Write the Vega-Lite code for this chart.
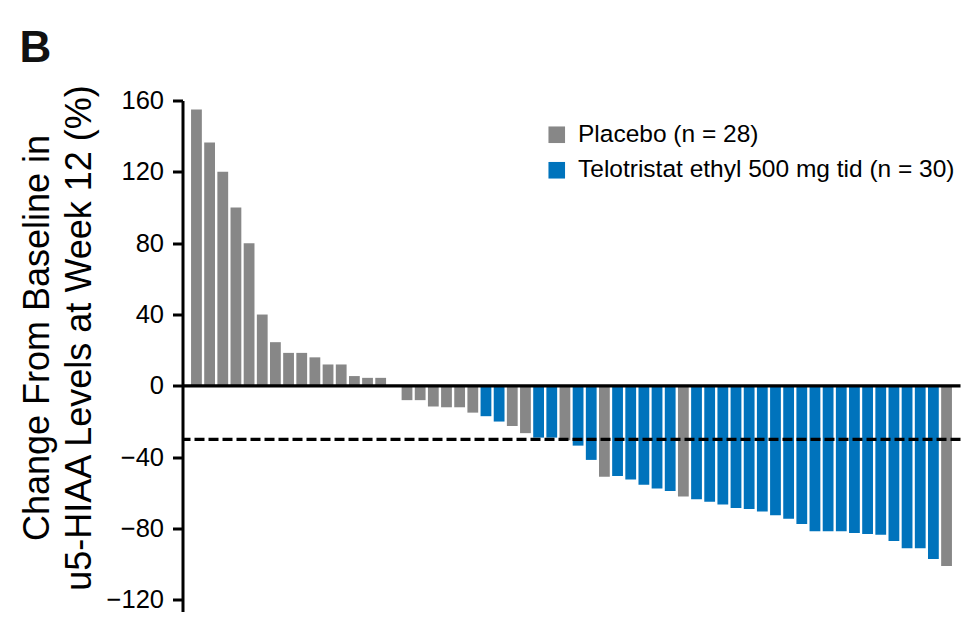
{
  "$schema": "https://vega.github.io/schema/vega-lite/v6.json",
  "width": 778,
  "height": 511,
  "autosize": "none",
  "padding": {"left": 182.5, "top": 100.5, "right": 6.5, "bottom": 19.5},
  "background": "white",
  "config": {"view": {"stroke": null}, "font": "Liberation Sans"},
  "title": {"text": "B", "anchor": "start", "frame": "group", "fontSize": 44, "fontWeight": "bold", "font": "Liberation Sans", "color": "#111111", "dx": -163, "dy": 58, "offset": 36, "baseline": "alphabetic"},
  "data": {"values": [
    {"i": 1, "g": "Placebo (n = 28)", "v": 155},
    {"i": 2, "g": "Placebo (n = 28)", "v": 136.5},
    {"i": 3, "g": "Placebo (n = 28)", "v": 120},
    {"i": 4, "g": "Placebo (n = 28)", "v": 100},
    {"i": 5, "g": "Placebo (n = 28)", "v": 80},
    {"i": 6, "g": "Placebo (n = 28)", "v": 40},
    {"i": 7, "g": "Placebo (n = 28)", "v": 24.5},
    {"i": 8, "g": "Placebo (n = 28)", "v": 18.5},
    {"i": 9, "g": "Placebo (n = 28)", "v": 18.5},
    {"i": 10, "g": "Placebo (n = 28)", "v": 16},
    {"i": 11, "g": "Placebo (n = 28)", "v": 12},
    {"i": 12, "g": "Placebo (n = 28)", "v": 12},
    {"i": 13, "g": "Placebo (n = 28)", "v": 5.5},
    {"i": 14, "g": "Placebo (n = 28)", "v": 4.5},
    {"i": 15, "g": "Placebo (n = 28)", "v": 4.5},
    {"i": 16, "g": "Placebo (n = 28)", "v": 0},
    {"i": 17, "g": "Placebo (n = 28)", "v": -8},
    {"i": 18, "g": "Placebo (n = 28)", "v": -8},
    {"i": 19, "g": "Placebo (n = 28)", "v": -11.5},
    {"i": 20, "g": "Placebo (n = 28)", "v": -12},
    {"i": 21, "g": "Placebo (n = 28)", "v": -12},
    {"i": 22, "g": "Placebo (n = 28)", "v": -15},
    {"i": 23, "g": "Telotristat ethyl 500 mg tid (n = 30)", "v": -17},
    {"i": 24, "g": "Telotristat ethyl 500 mg tid (n = 30)", "v": -20},
    {"i": 25, "g": "Placebo (n = 28)", "v": -22.5},
    {"i": 26, "g": "Placebo (n = 28)", "v": -26.5},
    {"i": 27, "g": "Telotristat ethyl 500 mg tid (n = 30)", "v": -29},
    {"i": 28, "g": "Telotristat ethyl 500 mg tid (n = 30)", "v": -29},
    {"i": 29, "g": "Placebo (n = 28)", "v": -30.5},
    {"i": 30, "g": "Telotristat ethyl 500 mg tid (n = 30)", "v": -33.5},
    {"i": 31, "g": "Telotristat ethyl 500 mg tid (n = 30)", "v": -41.5},
    {"i": 32, "g": "Placebo (n = 28)", "v": -51},
    {"i": 33, "g": "Telotristat ethyl 500 mg tid (n = 30)", "v": -50.5},
    {"i": 34, "g": "Telotristat ethyl 500 mg tid (n = 30)", "v": -52.5},
    {"i": 35, "g": "Telotristat ethyl 500 mg tid (n = 30)", "v": -55.5},
    {"i": 36, "g": "Telotristat ethyl 500 mg tid (n = 30)", "v": -57.5},
    {"i": 37, "g": "Telotristat ethyl 500 mg tid (n = 30)", "v": -59},
    {"i": 38, "g": "Placebo (n = 28)", "v": -62},
    {"i": 39, "g": "Telotristat ethyl 500 mg tid (n = 30)", "v": -63.5},
    {"i": 40, "g": "Telotristat ethyl 500 mg tid (n = 30)", "v": -65},
    {"i": 41, "g": "Telotristat ethyl 500 mg tid (n = 30)", "v": -66.5},
    {"i": 42, "g": "Telotristat ethyl 500 mg tid (n = 30)", "v": -68.5},
    {"i": 43, "g": "Telotristat ethyl 500 mg tid (n = 30)", "v": -69},
    {"i": 44, "g": "Telotristat ethyl 500 mg tid (n = 30)", "v": -70.5},
    {"i": 45, "g": "Telotristat ethyl 500 mg tid (n = 30)", "v": -72.5},
    {"i": 46, "g": "Telotristat ethyl 500 mg tid (n = 30)", "v": -74.5},
    {"i": 47, "g": "Telotristat ethyl 500 mg tid (n = 30)", "v": -77.5},
    {"i": 48, "g": "Telotristat ethyl 500 mg tid (n = 30)", "v": -81.5},
    {"i": 49, "g": "Telotristat ethyl 500 mg tid (n = 30)", "v": -81.5},
    {"i": 50, "g": "Telotristat ethyl 500 mg tid (n = 30)", "v": -81.5},
    {"i": 51, "g": "Telotristat ethyl 500 mg tid (n = 30)", "v": -82.5},
    {"i": 52, "g": "Telotristat ethyl 500 mg tid (n = 30)", "v": -83},
    {"i": 53, "g": "Telotristat ethyl 500 mg tid (n = 30)", "v": -83.5},
    {"i": 54, "g": "Telotristat ethyl 500 mg tid (n = 30)", "v": -87},
    {"i": 55, "g": "Telotristat ethyl 500 mg tid (n = 30)", "v": -91},
    {"i": 56, "g": "Telotristat ethyl 500 mg tid (n = 30)", "v": -91},
    {"i": 57, "g": "Telotristat ethyl 500 mg tid (n = 30)", "v": -97},
    {"i": 58, "g": "Placebo (n = 28)", "v": -101}
  ]},
  "layer": [
    {
      "mark": {"type": "bar"},
      "encoding": {
        "x": {"field": "i", "type": "ordinal", "axis": null, "scale": {"paddingInner": 0.18, "paddingOuter": 0.65}},
        "y": {
          "field": "v", "type": "quantitative",
          "scale": {"domain": [-126.5, 160], "nice": false, "zero": false},
          "axis": {
            "values": [-120, -80, -40, 0, 40, 80, 120, 160],
            "title": ["Change From Baseline in", "u5-HIAA Levels at Week 12 (%)"],
            "grid": false,
            "domainColor": "black", "domainWidth": 3,
            "tickColor": "black", "tickWidth": 3, "tickSize": 10,
            "labelFontSize": 25.5, "labelColor": "black", "labelPadding": 9, "labelFont": "Liberation Sans",
            "titleFontSize": 36, "titleFontWeight": "normal", "titleColor": "black", "titleFont": "Liberation Sans",
            "titleX": -145, "titleY": 237, "titleBaseline": "middle", "titleLineHeight": 42, "titleAngle": -90
          }
        },
        "color": {
          "field": "g", "type": "nominal",
          "scale": {"domain": ["Placebo (n = 28)", "Telotristat ethyl 500 mg tid (n = 30)"], "range": ["#878787", "#0073BC"]},
          "legend": {"orient": "none", "legendX": 362, "legendY": 22, "title": null, "symbolType": "square", "symbolSize": 275, "symbolStrokeWidth": 0, "symbolOpacity": 1, "labelFontSize": 24.5, "labelColor": "black", "labelOffset": 9, "rowPadding": 10.5, "padding": 0, "labelLimit": 500, "labelFont": "Liberation Sans"}
        }
      }
    },
    {
      "data": {"values": [{"y": 0}]},
      "mark": {"type": "rule", "strokeWidth": 3.3, "color": "black"},
      "encoding": {"y": {"field": "y", "type": "quantitative"}}
    },
    {
      "data": {"values": [{"y": -30}]},
      "mark": {"type": "rule", "strokeWidth": 3.3, "color": "black", "strokeDash": [10, 4]},
      "encoding": {"y": {"field": "y", "type": "quantitative"}}
    }
  ]
}
